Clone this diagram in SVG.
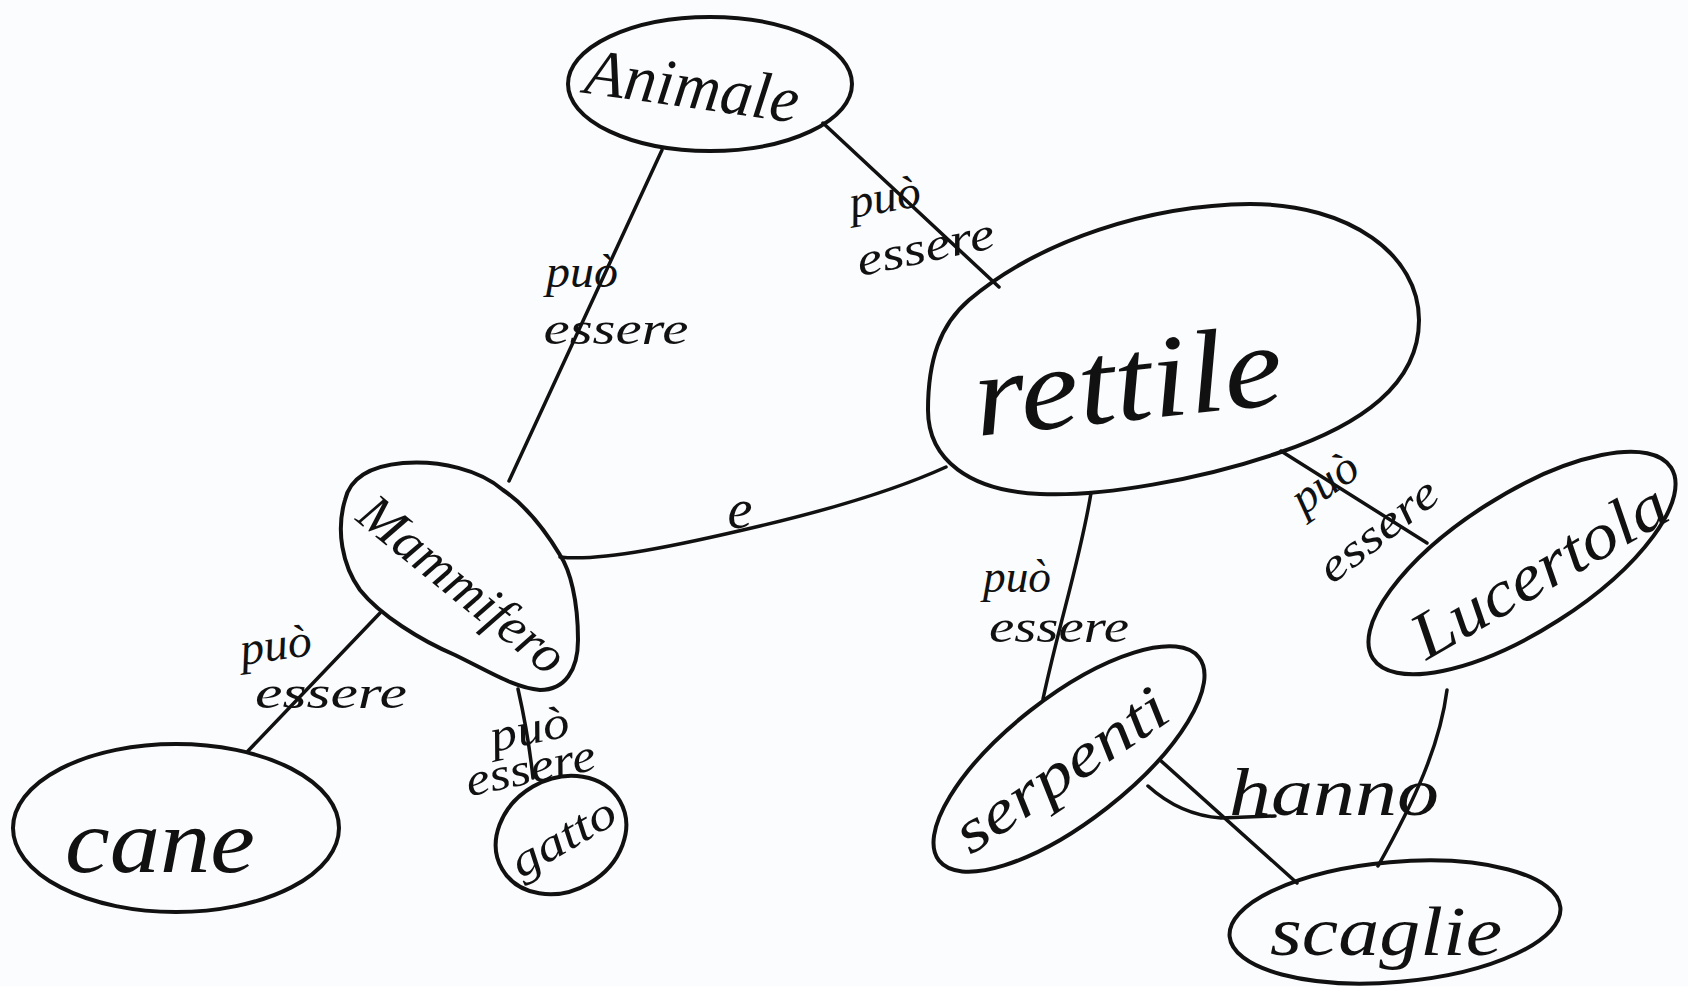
<svg xmlns="http://www.w3.org/2000/svg" width="1688" height="986" viewBox="0 0 1688 986">
<style>
.bg{fill:#fbfcfe}
.shape{fill:none;stroke:#111;stroke-width:4;stroke-linejoin:round}
.edge{fill:none;stroke:#111;stroke-width:3.5;stroke-linecap:round;stroke-linejoin:round}
.t{font-family:"Liberation Serif","DejaVu Serif",serif;font-style:italic;fill:#111;text-anchor:middle}
.lbl{font-size:46px}
</style>
<rect class="bg" x="0" y="0" width="1688" height="986"/>

<g id="connectors">
  <path class="edge" d="M662,150 L509,481"/>
  <path class="edge" d="M823,123 L999,287"/>
  <path class="edge" d="M560,557 C600,562 680,545 760,526 C840,507 900,488 946,467"/>
  <path class="edge" d="M1091,493 C1080,560 1060,620 1043,699"/>
  <path class="edge" d="M1281,451 L1427,543"/>
  <path class="edge" d="M380,613 L248,751"/>
  <path class="edge" d="M518,689 C525,720 530,750 533,778"/>
  <path class="edge" d="M1160,760 L1297,883"/>
  <path class="edge" d="M1447,690 C1440,745 1415,800 1378,866"/>
  <path class="edge" d="M1148,786 Q1180,815 1221,818 L1275,816"/>

  <text class="t lbl" x="582" y="287" textLength="72" lengthAdjust="spacingAndGlyphs">può</text>
  <text class="t lbl" x="616" y="344" textLength="145" lengthAdjust="spacingAndGlyphs">essere</text>

  <text class="t lbl" x="885" y="212" textLength="72" lengthAdjust="spacingAndGlyphs" transform="rotate(-10 885 200)">può</text>
  <text class="t lbl" x="926" y="262" textLength="140" lengthAdjust="spacingAndGlyphs" transform="rotate(-12 926 250)">essere</text>

  <text class="t lbl" x="1017" y="592" textLength="68" lengthAdjust="spacingAndGlyphs">può</text>
  <text class="t lbl" x="1059" y="642" textLength="140" lengthAdjust="spacingAndGlyphs">essere</text>

  <text class="t lbl" x="1326" y="497" textLength="72" lengthAdjust="spacingAndGlyphs" transform="rotate(-35 1326 485)">può</text>
  <text class="t lbl" x="1378" y="545" textLength="140" lengthAdjust="spacingAndGlyphs" transform="rotate(-38 1378 530)">essere</text>

  <text class="t lbl" x="276" y="660" textLength="72" lengthAdjust="spacingAndGlyphs" transform="rotate(-8 276 648)">può</text>
  <text class="t lbl" x="331" y="708" textLength="152" lengthAdjust="spacingAndGlyphs">essere</text>

  <text class="t lbl" x="530" y="744" textLength="80" lengthAdjust="spacingAndGlyphs" transform="rotate(-12 530 732)">può</text>
  <text class="t lbl" x="531" y="783" textLength="132" lengthAdjust="spacingAndGlyphs" transform="rotate(-12 531 771)">essere</text>

  <text class="t" x="740" y="528" font-size="56">e</text>
  <text class="t" x="1334" y="815" font-size="68" textLength="210" lengthAdjust="spacingAndGlyphs">hanno</text>
</g>

<g id="animale">
  <ellipse class="shape" cx="710" cy="84" rx="142" ry="67"/>
  <text class="t" x="692" y="108" font-size="66" textLength="215" lengthAdjust="spacingAndGlyphs" transform="rotate(8 692 90)">Animale</text>
</g>

<g id="rettile">
  <path class="shape" d="M969,300 C1040,240 1150,205 1250,204 C1350,204 1419,255 1419,320 C1419,385 1360,425 1281,452 C1200,480 1100,497 1040,494 C970,491 928,460 928,410 C928,360 940,325 969,300 Z"/>
  <text class="t" x="1128" y="420" font-size="118" textLength="310" lengthAdjust="spacingAndGlyphs" transform="rotate(-6 1128 385)">rettile</text>
</g>

<g id="mammifero">
  <path class="shape" d="M503,490 C480,470 440,460 403,463 C370,466 350,478 345,500 C336,530 342,565 360,590 C380,615 420,640 455,655 C490,672 515,688 540,690 C565,690 578,670 578,640 C578,600 570,570 560,555 C545,530 525,505 503,490 Z"/>
  <text class="t" x="462" y="602" font-size="54" textLength="250" lengthAdjust="spacingAndGlyphs" transform="rotate(39 462 585)">Mammifero</text>
</g>

<g id="cane">
  <ellipse class="shape" cx="176" cy="828" rx="163" ry="84"/>
  <text class="t" x="160" y="872" font-size="92" textLength="190" lengthAdjust="spacingAndGlyphs">cane</text>
</g>

<g id="gatto">
  <ellipse class="shape" cx="561" cy="835" rx="68" ry="56" transform="rotate(-30 561 835)"/>
  <text class="t" x="563" y="852" font-size="46" textLength="115" lengthAdjust="spacingAndGlyphs" transform="rotate(-30 563 837)">gatto</text>
</g>

<g id="serpenti">
  <ellipse class="shape" cx="1069" cy="759" rx="165" ry="62" transform="rotate(-38 1069 759)"/>
  <text class="t" x="1062" y="790" font-size="62" textLength="245" lengthAdjust="spacingAndGlyphs" transform="rotate(-34 1062 772)">serpenti</text>
</g>

<g id="lucertola">
  <ellipse class="shape" cx="1522" cy="563" rx="177" ry="68" transform="rotate(-32.6 1522 563)"/>
  <text class="t" x="1540" y="592" font-size="66" textLength="285" lengthAdjust="spacingAndGlyphs" transform="rotate(-30 1540 572)">Lucertola</text>
</g>

<g id="scaglie">
  <ellipse class="shape" cx="1395" cy="922" rx="166" ry="60" transform="rotate(-5 1395 922)"/>
  <text class="t" x="1386" y="955" font-size="70" textLength="232" lengthAdjust="spacingAndGlyphs">scaglie</text>
</g>
</svg>
